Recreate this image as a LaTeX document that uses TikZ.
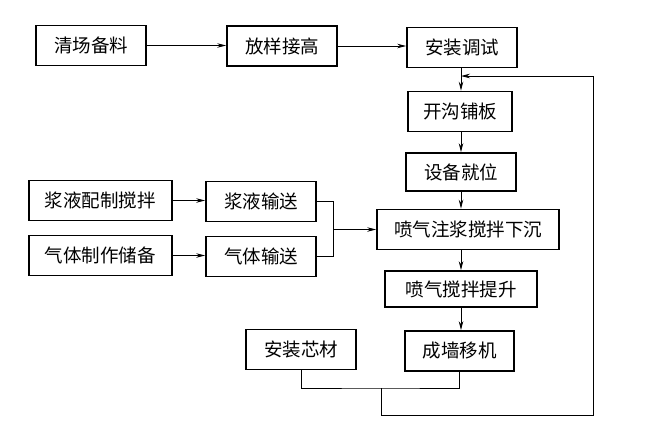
\documentclass[tikz,border=0pt]{standalone}
\usepackage{fontspec}
\newfontfamily\cjk{Noto Sans CJK SC}
\usetikzlibrary{arrows.meta,calc}

\begin{document}
\begin{tikzpicture}[x=1pt,y=-1pt,
    box/.style={draw,line width=1.6pt,inner sep=0pt,minimum height=40pt,
      font=\cjk\fontsize{18.5}{19}\selectfont},
    link/.style={line width=0.8pt,-{Stealth[length=9pt,width=4.5pt]}},
    wire/.style={line width=0.8pt}]
\useasboundingbox (0,0) rectangle (646,442);
\coordinate (col) at (461,0);
% top row
\node[box,minimum width=110pt] (qc) at (91,45.5) {清场备料};
\node[box,minimum width=110pt] (fy) at (282,46) {放样接高};
\node[box,minimum width=110pt] (az) at (462,47.5) {安装调试};
% main column
\node[box,minimum width=104pt] (kg) at (460,111.5) {开沟铺板};
\node[box,minimum width=110pt,minimum height=38pt] (sb) at (461,172) {设备就位};
\node[box,minimum width=182pt] (pq) at (468,229.5) {喷气注浆搅拌下沉};
\node[box,minimum width=152pt,minimum height=36pt] (ts) at (461,289) {喷气搅拌提升};
\node[box,minimum width=109pt] (cq) at (459.5,351) {成墙移机};
\node[box,minimum width=110pt] (xc) at (301,349.5) {安装芯材};
% slurry and gas
\node[box,minimum width=143pt] (jy) at (100.5,200.5) {浆液配制搅拌};
\node[box,minimum width=143pt] (qt) at (100.5,255.5) {气体制作储备};
\node[box,minimum width=110pt] (js) at (261,201.5) {浆液输送};
\node[box,minimum width=110pt] (qs) at (261,256.5) {气体输送};

\foreach \a/\b in {qc/fy,fy/az,jy/js,qt/qs}{\draw[link] (\a.east) -- (\a.east -| \b.west);}
\foreach \a/\b in {az/kg,kg/sb,sb/pq,pq/ts,ts/cq}{\draw[link] (\a.south -| col) -- (\b.north -| col);}

\coordinate (mg) at (333,229.5);
\draw[wire] (js.east) -| (mg);
\draw[wire] (qs.east) -| (mg);
\draw[link] (mg) -- (pq.west);

% loop back
\coordinate (jn) at (381,388);
\coordinate (bl) at (381,415);
\coordinate (tr) at (593,76);
\draw[wire] (xc.south) |- (jn) -| (cq.south);
\draw[link] (jn) -- (bl) -| (tr) -- (tr -| col);
\end{tikzpicture}
\end{document}
